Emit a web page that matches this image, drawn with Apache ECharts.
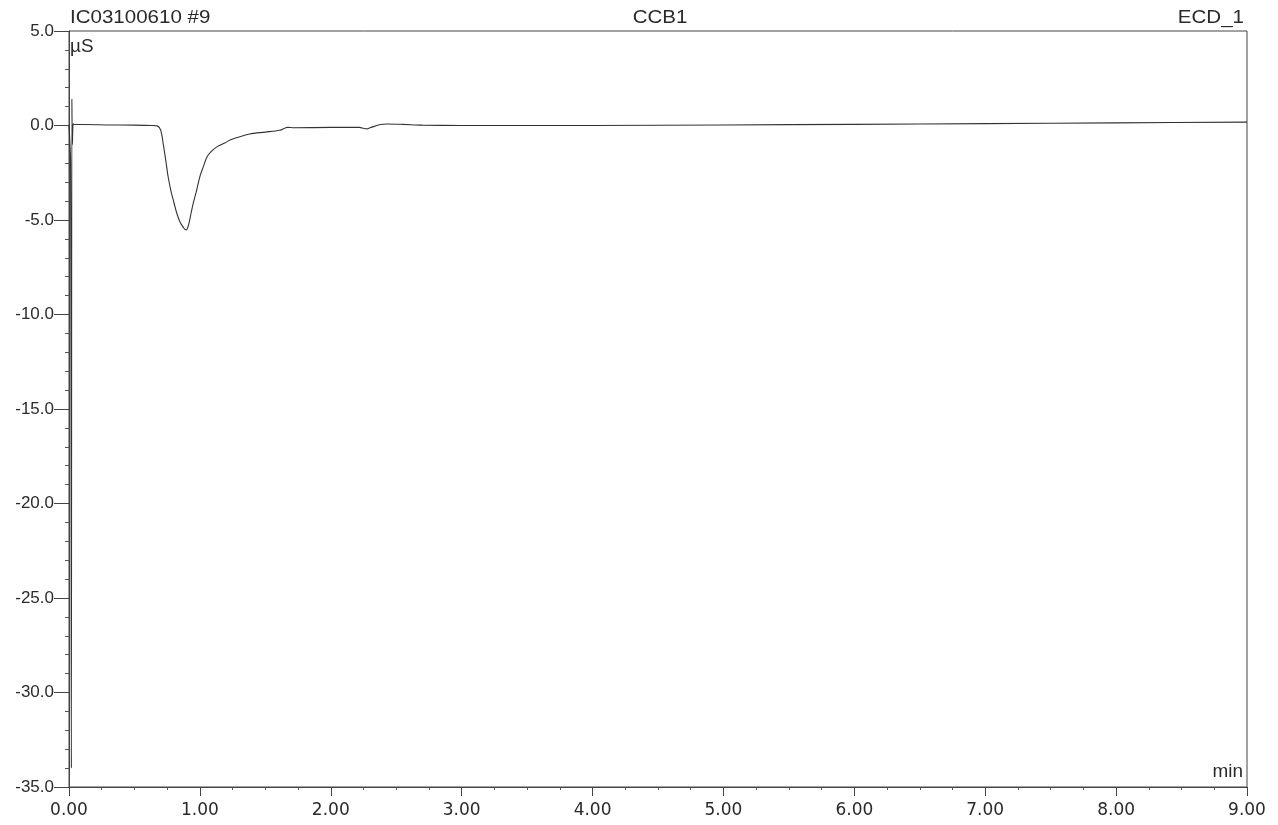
<!DOCTYPE html>
<html>
<head>
<meta charset="utf-8">
<title>CCB1 ECD_1</title>
<script src="https://cdn.jsdelivr.net/npm/echarts@6/dist/echarts.min.js"></script>
<style>
  html, body { margin: 0; padding: 0; background: #fff; }
  #chart { width: 1278px; height: 825px; }
</style>
</head>
<body>
<div id="chart"></div>
<script>
// Conductivity trace (ECD_1), retention time in minutes vs signal in µS
const times = [
  0.000, 0.012, 0.018, 0.022, 0.026, 0.032, 0.040, 0.100, 0.300, 0.500,
  0.640, 0.673, 0.700, 0.719, 0.739, 0.757, 0.777, 0.795, 0.823, 0.849,
  0.874, 0.886, 0.896, 0.906, 0.917, 0.933, 0.950, 0.976, 1.000, 1.025,
  1.055, 1.086, 1.130, 1.190, 1.230, 1.380, 1.500, 1.610, 1.670, 1.720,
  2.000, 2.220, 2.250, 2.275, 2.300, 2.380, 2.430, 2.550, 2.700, 3.000,
  4.000, 5.000, 6.000, 7.000, 8.000, 9.000
];
const signal = [
  0.00, -2.0, -34.0, 1.40, -1.0, 0.10, 0.05, 0.05, 0.03, 0.02,
  0.00, -0.02, -0.24, -0.93, -1.83, -2.70, -3.40, -3.90, -4.63, -5.12,
  -5.40, -5.50, -5.53, -5.42, -5.16, -4.63, -4.10, -3.40, -2.70, -2.20,
  -1.65, -1.38, -1.13, -0.93, -0.77, -0.45, -0.35, -0.25, -0.10, -0.12,
  -0.10, -0.10, -0.15, -0.18, -0.12, 0.05, 0.08, 0.06, 0.02, 0.00,
  0.00, 0.03, 0.06, 0.10, 0.14, 0.18
];

// Axis ranges
const xRange = { min: 0, max: 9, step: 1 };
const yRange = { min: -35, max: 5, step: 5 };

const headerLeft = 'IC03100610 #9';
const headerCenter = 'CCB1';
const headerRight = 'ECD_1';
const yUnit = 'µS';
const xUnit = 'min';

const WIDE = 'DejaVu Sans, sans-serif';
const NARROW = 'Liberation Sans, Arial, sans-serif';
const INK = '#2a2a2a';
const LINE = '#444';

const chart = echarts.init(document.getElementById('chart'), null, { renderer: 'canvas' });

const points = times.map((t, i) => [t, signal[i]]);

// Header and unit captions: Arial-like face, widened a little
function label(text, x, y, align, size, stretch) {
  return {
    type: 'text', x: x, y: y, scaleX: stretch, silent: true,
    style: { text: text, fill: INK, font: size + 'px ' + NARROW, align: align, verticalAlign: 'middle' }
  };
}

chart.setOption({
  animation: false,
  backgroundColor: '#fff',
  grid: {
    left: 69, right: 31, top: 31, bottom: 38,
    show: true, borderColor: LINE, borderWidth: 1, backgroundColor: 'transparent'
  },
  graphic: [
    label(headerLeft, 70, 18, 'left', 18, 1.14),
    label(headerCenter, 660, 18, 'center', 18, 1.14),
    label(headerRight, 1244, 18, 'right', 18, 1.14),
    label(yUnit, 70, 47, 'left', 18, 1.05),
    label(xUnit, 1243, 772, 'right', 18, 1.05)
  ],
  xAxis: {
    type: 'value',
    min: xRange.min, max: xRange.max, interval: xRange.step,
    axisLine: { show: true, onZero: false, lineStyle: { color: LINE, width: 1 } },
    axisTick: { show: true, length: 9, lineStyle: { color: LINE } },
    minorTick: { show: true, splitNumber: 4, length: 3, lineStyle: { color: '#555' } },
    splitLine: { show: false },
    axisLabel: {
      margin: 15, fontSize: 17, color: INK, fontFamily: WIDE,
      formatter: v => v.toFixed(2)
    }
  },
  yAxis: {
    type: 'value',
    min: yRange.min, max: yRange.max, interval: yRange.step,
    axisLine: { show: true, onZero: false, lineStyle: { color: LINE, width: 1 } },
    axisTick: { show: true, length: 15, lineStyle: { color: LINE } },
    minorTick: { show: true, splitNumber: 5, length: 4, lineStyle: { color: '#555' } },
    splitLine: { show: false },
    axisLabel: {
      margin: 15, fontSize: 17, color: INK, fontFamily: NARROW,
      formatter: v => v.toFixed(1)
    }
  },
  series: [{
    type: 'line',
    data: points,
    showSymbol: false,
    smooth: 0.3,
    lineStyle: { color: '#333', width: 1.1 },
    silent: true
  }]
});
</script>
</body>
</html>
